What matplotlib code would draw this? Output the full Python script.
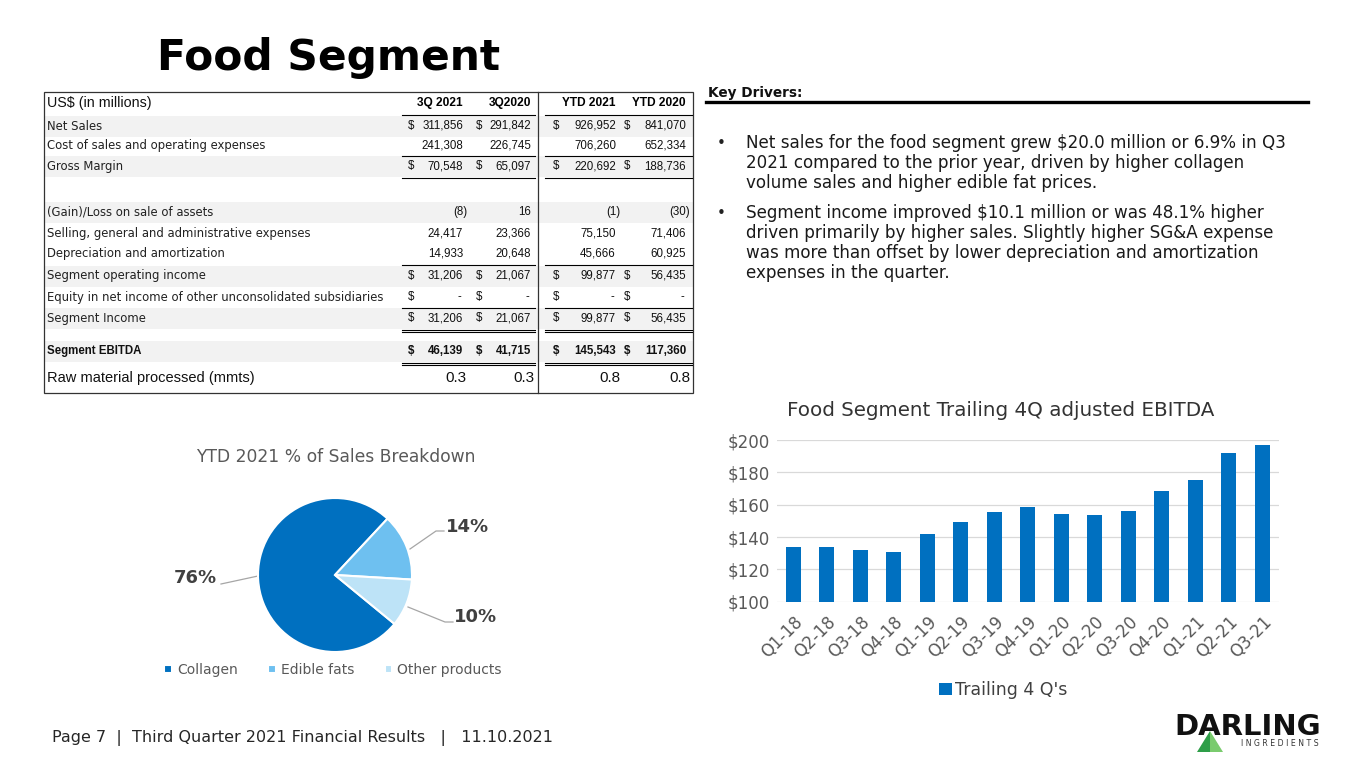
import matplotlib.pyplot as plt
from matplotlib.patches import Rectangle, Polygon

# ---- data ----
quarters = ['Q1-18', 'Q2-18', 'Q3-18', 'Q4-18', 'Q1-19', 'Q2-19', 'Q3-19', 'Q4-19',
            'Q1-20', 'Q2-20', 'Q3-20', 'Q4-20', 'Q1-21', 'Q2-21', 'Q3-21']
trailing_ebitda = [133.6, 134.0, 132.2, 130.7, 141.6, 149.1, 155.7, 158.4,
                   154.4, 153.6, 156.1, 168.5, 175.5, 192.2, 196.7]

pie_labels = ['Collagen', 'Edible fats', 'Other products']
pie_shares = [76, 14, 10]
pie_colors = ['#0070C0', '#6EC0F0', '#BDE3F7']

col_headers = ['3Q 2021', '3Q2020', 'YTD 2021', 'YTD 2020']
row_labels = ['Net Sales', 'Cost of sales and operating expenses', 'Gross Margin', '',
              '(Gain)/Loss on sale of assets', 'Selling, general and administrative expenses',
              'Depreciation and amortization', 'Segment operating income',
              'Equity in net income of other unconsolidated subsidiaries', 'Segment Income', '',
              'Segment EBITDA', 'Raw material processed (mmts)']
q3_2021 = ['311,856', '241,308', '70,548', '', '(8)', '24,417', '14,933', '31,206', '-',
           '31,206', '', '46,139', '0.3']
q3_2020 = ['291,842', '226,745', '65,097', '', '16', '23,366', '20,648', '21,067', '-',
           '21,067', '', '41,715', '0.3']
ytd_2021 = ['926,952', '706,260', '220,692', '', '(1)', '75,150', '45,666', '99,877', '-',
            '99,877', '', '145,543', '0.8']
ytd_2020 = ['841,070', '652,334', '188,736', '', '(30)', '71,406', '60,925', '56,435', '-',
            '56,435', '', '117,360', '0.8']
dollar_rows = [True, False, True, False, False, False, False, True, True, True, False, True, False]

bullets = [
    ['Net sales for the food segment grew $20.0 million or 6.9% in Q3',
     '2021 compared to the prior year, driven by higher collagen',
     'volume sales and higher edible fat prices.'],
    ['Segment income improved $10.1 million or was 48.1% higher',
     'driven primarily by higher sales. Slightly higher SG&A expense',
     'was more than offset by lower depreciation and amortization',
     'expenses in the quarter.'],
]

W, H = 1365, 768
fig = plt.figure(figsize=(13.65, 7.68), dpi=100)
fig.patch.set_facecolor('white')

# overlay in pixel coords for slide text / table
ov = fig.add_axes([0, 0, 1, 1])
ov.set_xlim(0, W)
ov.set_ylim(H, 0)
ov.axis('off')

ov.text(157, 70, 'Food Segment', fontsize=30.5, fontweight='bold', family='DejaVu Sans',
        va='baseline', ha='left', color='black')

# ---- table ----
tfont = 'Liberation Sans'
row_y = [126, 146, 166.5, 188, 212, 233, 254, 276, 297, 318.5, 335, 351, 378]
shaded = [0, 2, 4, 7, 9, 11]
for i in shaded:
    ov.add_patch(Rectangle((45, row_y[i] - 10.5), 648, 21, color='#F2F2F2', lw=0, zorder=0))

ov.add_patch(Rectangle((44, 92), 649, 301, fill=False, ec='#333333', lw=0.9, zorder=3))
ov.plot([538, 538], [92, 393], color='#333333', lw=0.9, zorder=3)

ov.text(47, 103, 'US$ (in millions)', fontsize=10.3, family=tfont, va='center', color='#111111')
pos_right = [463, 531, 616, 686]
dollar_x = [408, 476, 553, 624]
for x, h in zip(pos_right, col_headers):
    ov.text(x, 103, h, fontsize=8.6, family=tfont, fontweight='bold', ha='right', va='center')

cols = [q3_2021, q3_2020, ytd_2021, ytd_2020]
for i, lab in enumerate(row_labels):
    y = row_y[i]
    bold = lab == 'Segment EBITDA'
    big = lab.startswith('Raw')
    fs = 11 if big else 8.3
    wt = 'bold' if bold else 'normal'
    if big:
        ov.text(47, y, lab, fontsize=10.5, family=tfont, va='center', color='#111111')
    elif bold:
        ov.text(47, y, lab, fontsize=8.3, family=tfont, va='center', color='#111111',
                fontweight='bold')
    else:
        ov.text(47, y, lab, fontsize=8.4, family='DejaVu Sans', va='center', color='#222222')
    for c, col in enumerate(cols):
        v = col[i]
        if v == '':
            continue
        if big or v.startswith('('):
            x = pos_right[c] + 4
        elif v == '-':
            x = pos_right[c] - 2
        else:
            x = pos_right[c]
        ov.text(x, y, v, fontsize=fs, family=tfont, ha='right', va='center', color='#111111',
                fontweight=wt)
        if dollar_rows[i]:
            ov.text(dollar_x[c], y, '$', fontsize=fs, family=tfont, ha='left', va='center',
                    color='#111111', fontweight=wt)

segs = [(402, 535), (545, 692)]
for ly in [115, 156, 178, 264.5, 307.5]:
    for a, b in segs:
        ov.plot([a, b], [ly, ly], color='black', lw=0.8, zorder=3)
for ly in [329.5, 362.5]:
    for a, b in segs:
        ov.plot([a, b], [ly, ly], color='black', lw=0.8, zorder=3)
        ov.plot([a, b], [ly + 2.5, ly + 2.5], color='black', lw=0.8, zorder=3)

# ---- key drivers ----
ov.text(708, 93, 'Key Drivers:', fontsize=9.8, fontweight='bold', va='center', color='#111111')
ov.plot([706, 1308], [102, 102], color='black', lw=2.4)
by = [[143, 163, 183], [213, 233, 253, 273]]
for blines, ys in zip(bullets, by):
    ov.text(717, ys[0], '\u2022', fontsize=11, va='center', color='#222222')
    for line, y in zip(blines, ys):
        ov.text(746, y, line, fontsize=12.1, va='center', color='#1a1a1a')

# ---- pie ----
cx, cy, r = 335, 575, 77
ax_pie = fig.add_axes([(cx - r) / W, 1 - (cy + r) / H, 2 * r / W, 2 * r / H])
wedges, _ = ax_pie.pie(pie_shares, colors=pie_colors, startangle=-39.4, counterclock=False,
                       wedgeprops=dict(edgecolor='white', linewidth=1.5, clip_on=False))
ax_pie.set_xlim(-1, 1)
ax_pie.set_ylim(-1, 1)
ax_pie.axis('off')

ov.text(336, 457, 'YTD 2021 % of Sales Breakdown', fontsize=12.3, ha='center', va='center',
        color='#595959')
lead = '#A6A6A6'
ov.plot([221, 258], [584, 576], color=lead, lw=0.9)
ov.plot([410, 436, 444], [549, 531, 531], color=lead, lw=0.9)
ov.plot([408, 445, 453], [607, 622, 622], color=lead, lw=0.9)
lbl_pos = [(195, 578), (468, 527), (476, 617)]
for (lx, ly), s in zip(lbl_pos, pie_shares):
    ov.text(lx, ly, f'{s}%', fontsize=13, fontweight='bold', ha='center', va='center',
            color='#404040')
fig.legend(wedges, pie_labels, loc='center', bbox_to_anchor=(333 / W, 1 - 670 / H), ncol=3,
           frameon=False, fontsize=10, handlelength=0.55, handleheight=0.55, handletextpad=0.35,
           columnspacing=2.2, labelcolor='#595959')

# ---- bar chart ----
left, right, top, bottom = 776.5, 1279, 440, 601.7
ax = fig.add_axes([left / W, 1 - bottom / H, (right - left) / W, (bottom - top) / H])
bars = ax.bar(range(len(quarters)), trailing_ebitda, width=0.45, color='#0070C0', zorder=2,
              label="Trailing 4 Q's")
ax.set_ylim(100, 200)
ax.set_xlim(-0.5, len(quarters) - 0.5)
ax.set_yticks(range(100, 201, 20))
ax.set_yticklabels([f'${v}' for v in range(100, 201, 20)])
ax.set_xticks(range(len(quarters)))
ax.set_xticklabels(quarters, rotation=45, ha='right', rotation_mode='anchor')
ax.tick_params(axis='both', length=0, labelsize=12, labelcolor='#595959')
ax.tick_params(axis='y', pad=5)
ax.tick_params(axis='x', pad=8)
ax.grid(axis='y', color='#D9D9D9', lw=0.9, zorder=0)
ax.set_axisbelow(True)
for s in ax.spines.values():
    s.set_visible(False)
ax.set_facecolor('none')
ov.text(1001, 410, 'Food Segment Trailing 4Q adjusted EBITDA', fontsize=14.3, ha='center',
        va='center', color='#333333')
fig.legend(handles=[bars], labels=["Trailing 4 Q's"], loc='center',
           bbox_to_anchor=(1003 / W, 1 - 690 / H), frameon=False, fontsize=12.5,
           handlelength=0.75, handleheight=0.75, handletextpad=0.2, labelcolor='#404040')

# ---- footer ----
ov.text(52, 738, 'Page 7  |  Third Quarter 2021 Financial Results   |   11.10.2021',
        fontsize=11.5, va='center', color='#262626')

# logo
ov.text(1248, 735, 'DARLING', fontsize=21, fontweight='bold', ha='center', va='baseline',
        color='#111111')
ov.text(1280, 744, 'I N G R E D I E N T S', fontsize=5.6, ha='center', va='center',
        color='#333333')
ov.add_patch(Polygon([(1197, 752), (1210, 731), (1210, 752)], closed=True, color='#2E9E48',
                     lw=0, zorder=4))
ov.add_patch(Polygon([(1210, 731), (1223, 752), (1210, 752)], closed=True, color='#7ACB6E',
                     lw=0, zorder=4))

fig.savefig('out.png', dpi=100)
